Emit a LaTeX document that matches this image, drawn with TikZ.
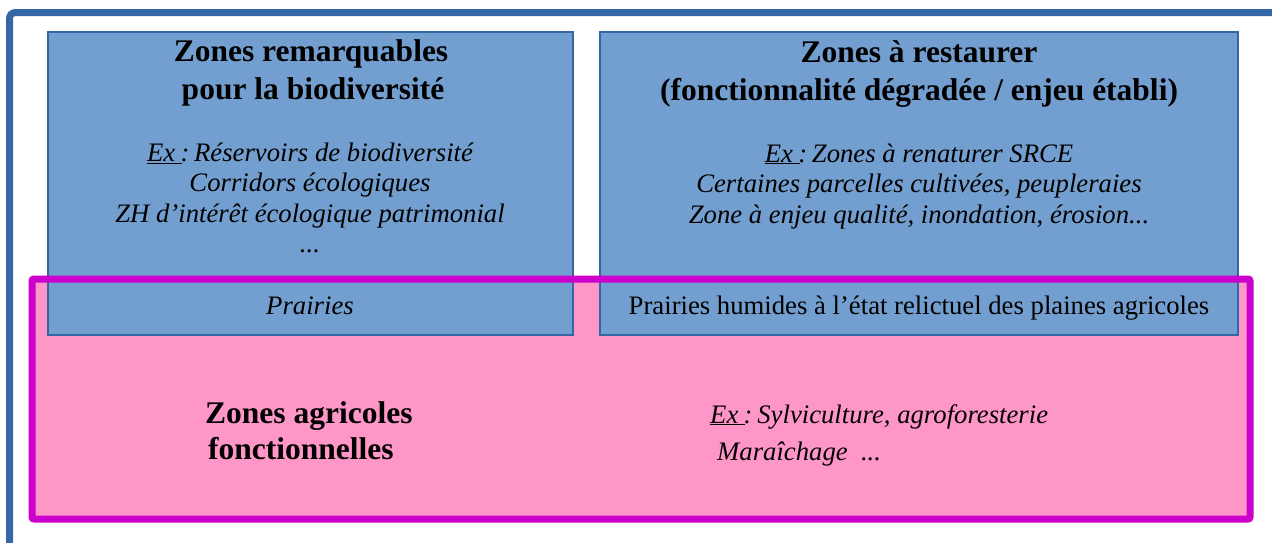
\documentclass[tikz,border=0pt]{standalone}
\usepackage{fontspec}
\setmainfont{Liberation Serif}
\definecolor{framblue}{HTML}{3566A5}
\definecolor{boxfill}{HTML}{729FCF}
\definecolor{boxline}{HTML}{3465A4}
\definecolor{pinkfill}{HTML}{FF96C8}
\definecolor{magline}{HTML}{CC00CC}
\newcommand{\exlabel}{\underline{Ex\hspace{0.25em}}\kern-0.05em:\hspace{0.18em}}
\begin{document}
\begin{tikzpicture}[x=1pt,y=-1pt,
  bluebox/.style={fill=boxfill,draw=boxline,line width=1.2pt},
  ttl/.style={anchor=base,inner sep=0pt,font=\fontsize{31.5}{34}\selectfont\bfseries},
  bod/.style={anchor=base,inner sep=0pt,font=\fontsize{26.7}{30}\selectfont\itshape},
  upr/.style={anchor=base,inner sep=0pt,font=\fontsize{26.7}{30}\selectfont},
  ttlw/.style={anchor=base west,inner sep=0pt,font=\fontsize{31.5}{34}\selectfont\bfseries},
  bodw/.style={anchor=base west,inner sep=0pt,font=\fontsize{26.7}{30}\selectfont\itshape}]
\useasboundingbox (0,0) rectangle (1272,542);
% outer blue frame
\draw[framblue,line width=7pt,rounded corners=6pt] (9.5,560) -- (9.5,12.5) -- (1290,12.5);
% pink zone fill
\fill[pinkfill] (32,279) rectangle (1250,519);
% blue boxes
\draw[bluebox] (48,32) rectangle (573,335);
\draw[bluebox] (600,32) rectangle (1238,335);
% magenta border
\draw[magline,line width=7pt,rounded corners=2pt] (32,279) rectangle (1250,519);
% left box texts
\node[ttl] (l1) at (311,61) {Zones remarquables};
\node[ttl] (l2) at (313,99) {pour la biodiversité};
\node[bod] (l3) at (310,161.5) {\exlabel Réservoirs de biodiversité};
\node[bod] (l4) at (310,191.5) {Corridors écologiques};
\node[bod] (l5) at (310,222) {ZH d’intérêt écologique patrimonial};
\node[bod] (l6) at (310,252.5) {...};
\node[bod] (l7) at (310,314) {Prairies};
% right box texts
\node[ttl] (r1) at (919,62) {Zones à restaurer};
\node[ttl] (r2) at (919,100) {(fonctionnalité dégradée / enjeu établi)};
\node[bod] (r3) at (919,162) {\exlabel Zones à renaturer SRCE};
\node[bod] (r4) at (919,192.5) {Certaines parcelles cultivées, peupleraies};
\node[bod] (r5) at (919,223) {Zone à enjeu qualité, inondation, érosion...};
\node[upr] (r6) at (919,314) {Prairies humides à l’état relictuel des plaines agricoles};
% pink zone texts
\node[ttlw] (p1) at (205,423) {Zones agricoles};
\node[ttlw] (p2) at (208,459) {fonctionnelles};
\node[bodw] (p3) at (710,423) {\exlabel Sylviculture, agroforesterie};
\node[bodw] (p4) at (717,460) {Maraîchage\ \ ...};
\end{tikzpicture}
\end{document}
